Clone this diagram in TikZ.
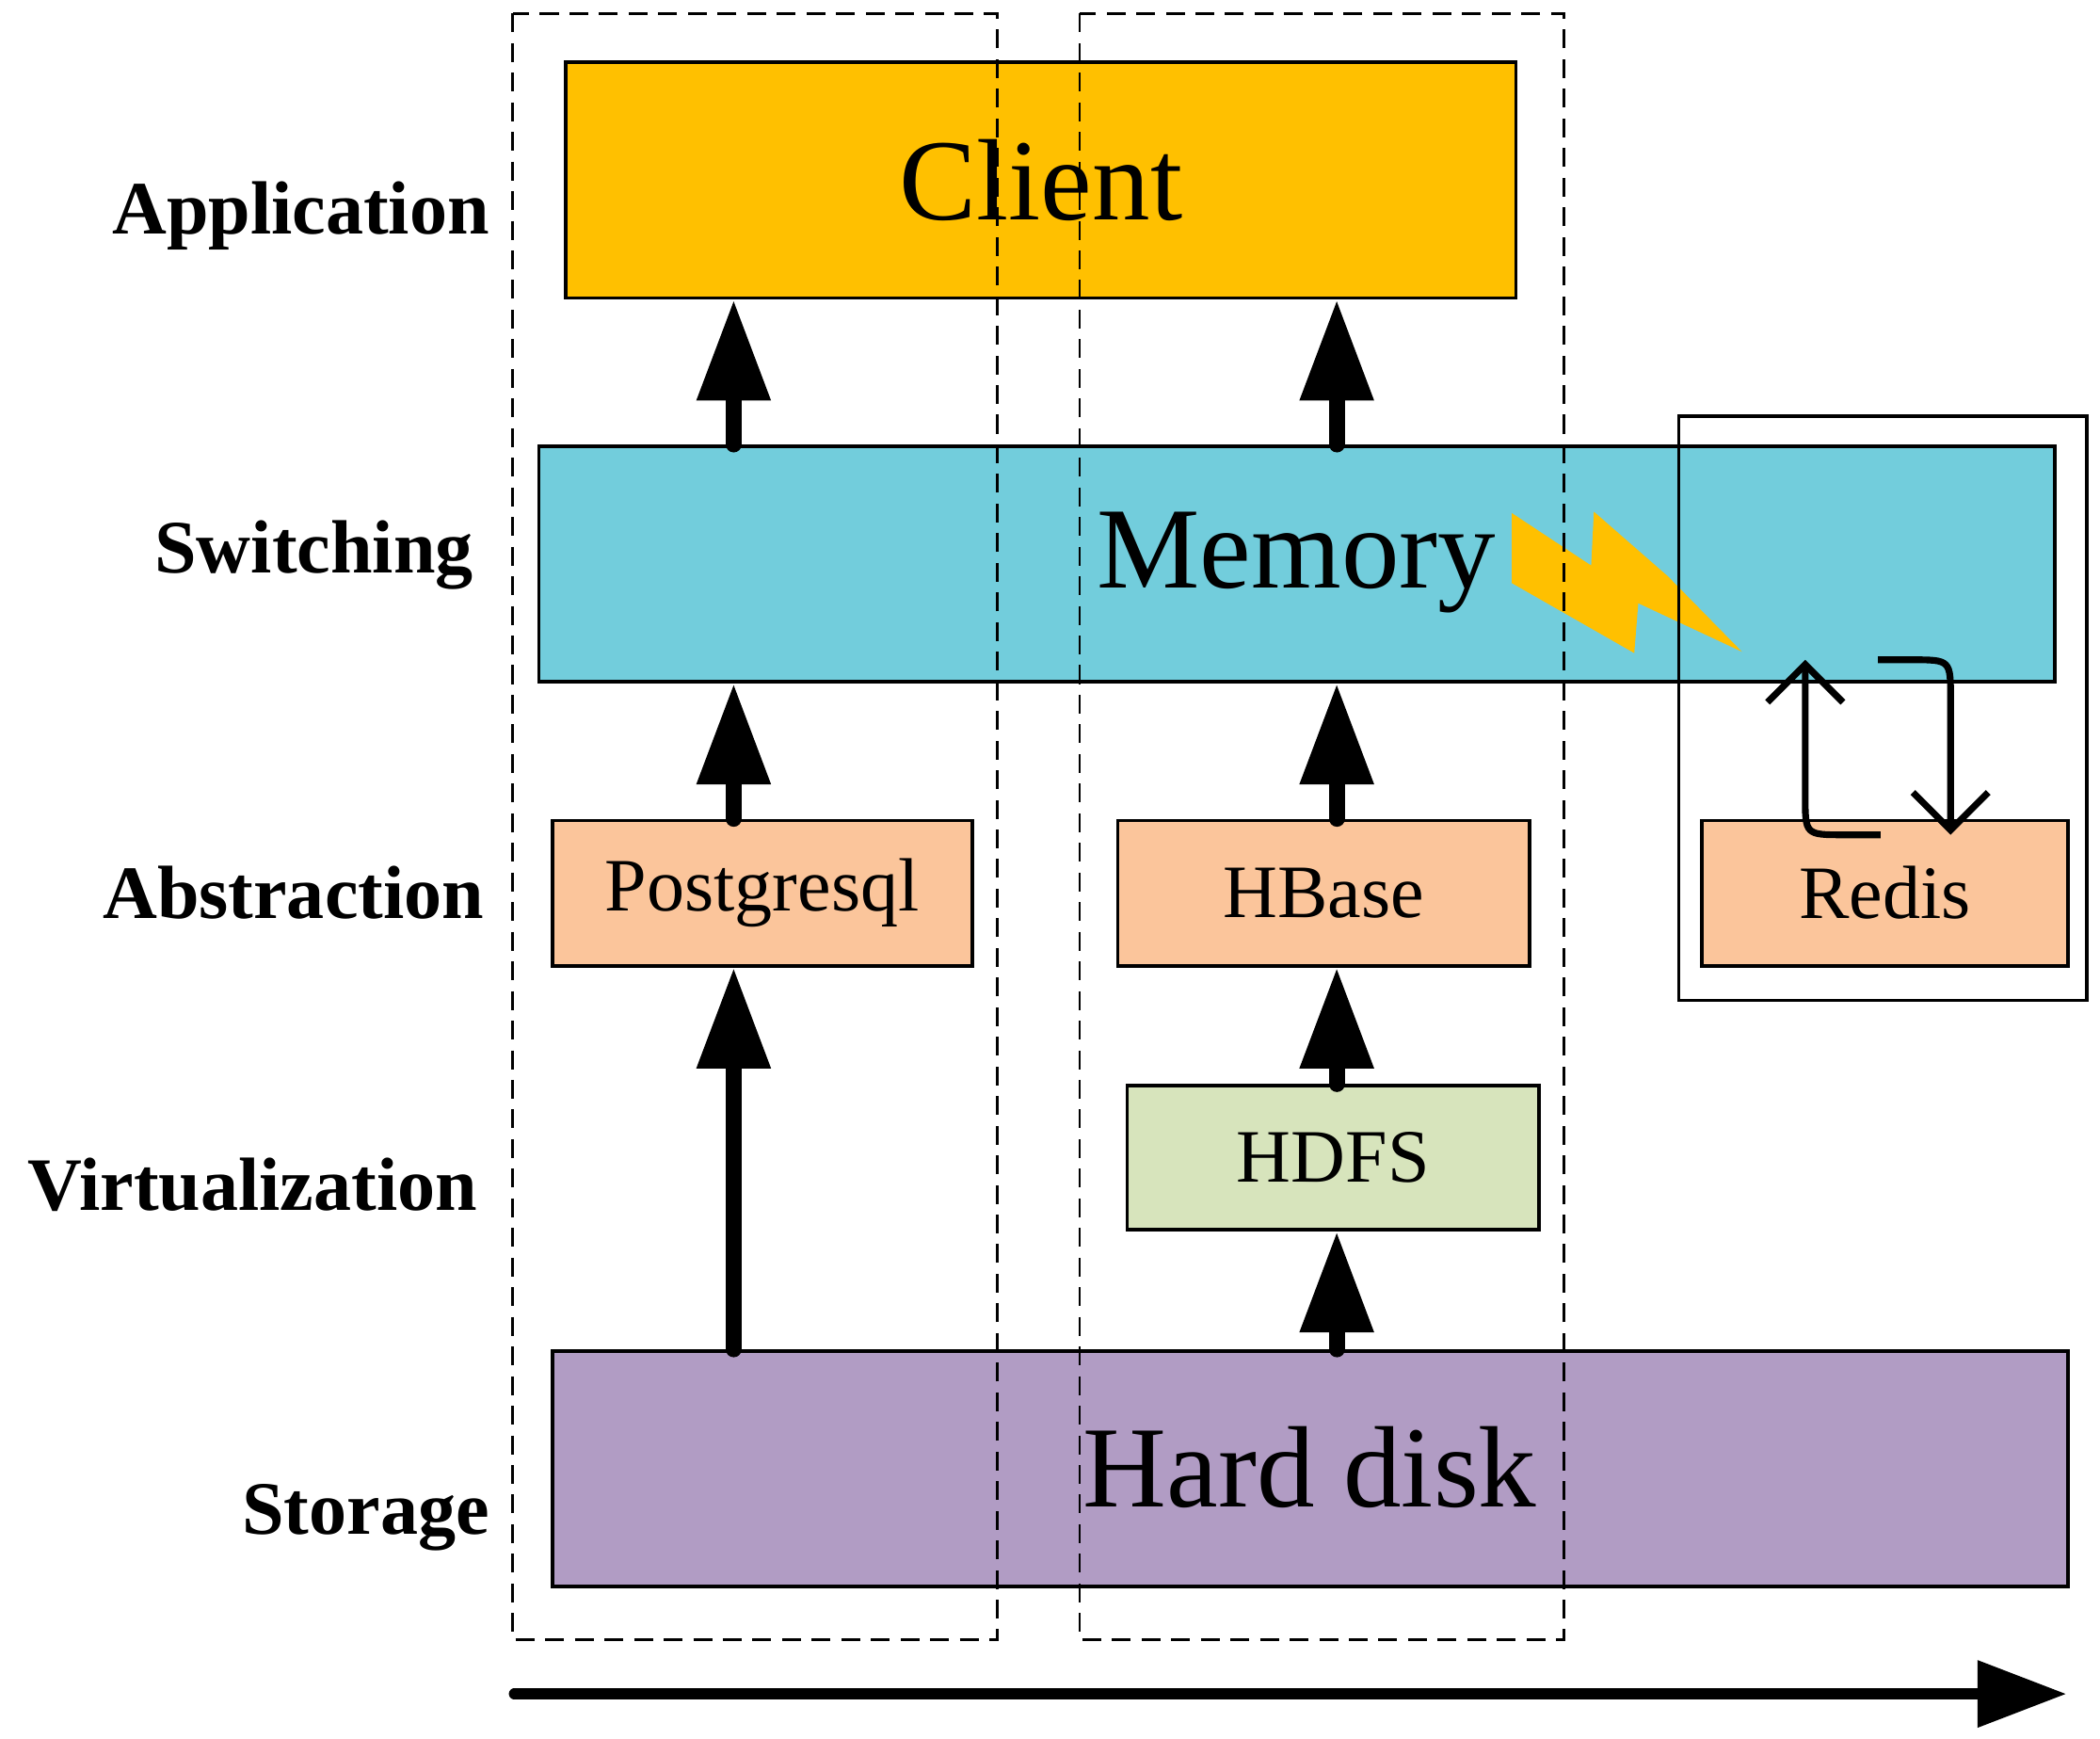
\documentclass[tikz,border=0pt]{standalone}
\usepackage{fontspec}
\setmainfont{Liberation Serif}
\usetikzlibrary{arrows.meta}
\definecolor{client}{HTML}{FFC000}
\definecolor{memory}{HTML}{72CDDC}
\definecolor{peach}{HTML}{FBC59B}
\definecolor{hdfs}{HTML}{D7E4BC}
\definecolor{disk}{HTML}{B19CC4}
\begin{document}
\begin{tikzpicture}[x=1pt,y=-1pt,
  layer/.style={draw, line width=2.5pt, anchor=north west, inner sep=0pt},
  big/.style={font=\fontsize{86}{86}\selectfont},
  mid/.style={font=\fontsize{56}{56}\selectfont},
  lab/.style={font=\bfseries\fontsize{56}{56}\selectfont, anchor=east},
  up/.style={line width=12pt, line cap=round, -{Triangle[width=52pt,length=75pt]}},
  cyc/.style={line width=5pt, -{Straight Barb[width=56pt,length=28pt,line width=5pt]}},
  group/.style={draw, line width=2pt, dash pattern=on 14pt off 8pt}]
\useasboundingbox (0,0) rectangle (1560,1291);
% boxes
\node[layer, fill=client, minimum width=706pt, minimum height=175pt] (client) at (419,45) {};
\node[big] at (client.center) {Client};
\node[layer, fill=memory, minimum width=1126pt, minimum height=175pt] (mem) at (399,330) {};
\node[big] at (963,418) {Memory};
\node[layer, fill=peach, minimum width=312pt, minimum height=108pt, mid] (pg) at (409,608) {Postgresql};
\node[layer, fill=peach, minimum width=306pt, minimum height=108pt, mid] (hb) at (829,608) {HBase};
\node[layer, fill=peach, minimum width=272pt, minimum height=108pt, mid] (rd) at (1263,608) {Redis};
\node[layer, fill=hdfs, minimum width=306pt, minimum height=107pt, mid] (hdfs) at (836,805) {HDFS};
\node[layer, fill=disk, minimum width=1126pt, minimum height=175pt] (disk) at (409,1002) {};
\node[big] at (973,1090) {Hard disk};
% lightning
\fill[client] (1123,381) -- (1182,420) -- (1184,380) -- (1239,428) -- (1294,484)
  -- (1217,448) -- (1214,485) -- (1123,433) -- cycle;
% groups
\draw[group] (381,10) rectangle (741,1218);
\draw[group] (802,10) rectangle (1162,1218);
\draw[line width=2.5pt] (1247,309) rectangle (1550,743);
% arrows
\coordinate (a1) at (545,330); \coordinate (a2) at (993,330);
\coordinate (b1) at (545,608); \coordinate (b2) at (993,608);
\coordinate (c1) at (545,1002); \coordinate (c2) at (993,805); \coordinate (c3) at (993,1002);
\draw[up] (a1) -- (a1 |- client.south);
\draw[up] (a2) -- (a2 |- client.south);
\draw[up] (b1) -- (b1 |- mem.south);
\draw[up] (b2) -- (b2 |- mem.south);
\draw[up] (c1) -- (c1 |- pg.south);
\draw[up] (c2) -- (c2 |- hb.south);
\draw[up] (c3) -- (c3 |- hdfs.south);
% redis cycle
\coordinate (r1) at (1397,620); \coordinate (r2) at (1341,490);
\coordinate (r3) at (1395,490); \coordinate (r4) at (1449,620);
\draw[cyc] (r1) -- (1370,620) .. controls (1341,620) .. (1341,591) -- (r2);
\draw[cyc] (r3) -- (1420,490) .. controls (1449,490) .. (1449,519) -- (r4);
% labels
\node[lab] at (367,160) {Application};
\node[lab] at (355,412) {Switching};
\node[lab] at (363,663) {Abstraction};
\node[lab] at (358,880) {Virtualization};
\node[lab] at (367,1127) {Storage};
% bottom arrow
\coordinate (s) at (382,1258); \coordinate (e) at (1535,1258);
\draw[line width=8pt, line cap=round, -{Triangle[width=48pt,length=66pt]}] (s) -- (e);
\end{tikzpicture}
\end{document}
